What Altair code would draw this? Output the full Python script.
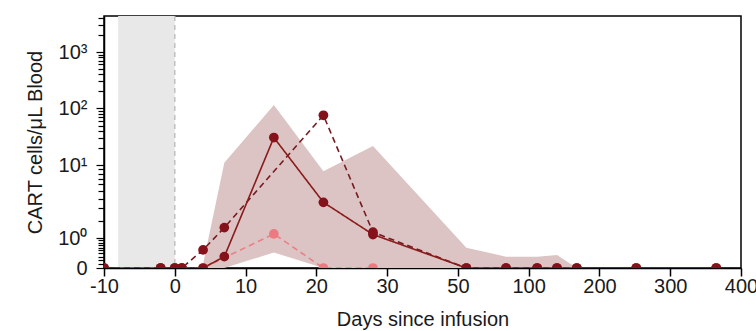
import altair as alt
import pandas as pd

# ---- data ----
days_solid = [-10, -2, 0, 1, 4, 7, 14, 21, 28, 56, 84, 112, 140, 168, 252, 365]
vals_solid = [0, 0, 0, 0, 0, 0.3, 31, 3.6, 1.17, 0, 0, 0, 0, 0, 0, 0]

days_dashed = [-10, -2, 0, 1, 4, 7, 21, 28, 56, 84, 112, 140, 168, 252, 365]
vals_dashed = [0, 0, 0, 0, 0.52, 1.55, 75, 1.29, 0, 0, 0, 0, 0, 0, 0]

days_pink = [-10, -2, 0, 1, 4, 14, 21, 28]
vals_pink = [0, 0, 0, 0, 0, 1.2, 0, 0]

band_days = [4, 7, 14, 21, 28, 56, 84, 112, 140, 168]
band_lo = [0, 0, 0.43, 0, 0, 0, 0, 0, 0, 0]
band_hi = [0.1, 11, 113, 8.5, 22, 0.6, 0.3, 0.3, 0.35, 0]

shade_start = [-8]
shade_end = [0]

x_ticks = [-10, 0, 10, 20, 30, 50, 100, 200, 300, 400]
y_major = [0, 1, 10, 100, 1000]
y_major_labels = ["0", "10⁰", "10¹", "10²", "10³"]
y_minor = [0.1, 0.2, 0.3, 0.4, 0.5, 0.6, 0.7, 0.8, 0.9,
           2, 3, 4, 5, 6, 7, 8, 9,
           20, 30, 40, 50, 60, 70, 80, 90,
           200, 300, 400, 500, 600, 700, 800, 900,
           2000, 3000, 4000]
y_top = 4300

# ---- layout ----
W, H = 637, 252
FONT = "Liberation Sans"

x_scale = alt.Scale(domain=x_ticks, range=[W * i / (len(x_ticks) - 1) for i in range(len(x_ticks))],
                    nice=False, zero=False)
y_scale = alt.Scale(type="symlog", constant=1, domain=[0, 1, 10, 100, 1000, y_top],
                    range=[252, 222, 149, 92, 36, 0], nice=False, zero=False)

label_expr = " : ".join(
    f"datum.value == {v} ? '{t}'" for v, t in zip(y_major, y_major_labels)
) + " : ''"
major_test = "indexof([" + ",".join(str(v) for v in y_major) + "], datum.value) >= 0"
y_values = sorted(y_major + y_minor)

x_axis = alt.Axis(values=x_ticks, tickCount=100, labelExpr="'' + datum.value",
                  title="Days since infusion", grid=False,
                  tickSize=8, tickWidth=1.5, tickColor="black", domainColor="black",
                  domainWidth=1.5, labelFontSize=20, titleFontSize=20, labelFont=FONT,
                  titleFont=FONT, titleFontWeight="normal", labelPadding=0, titlePadding=13,
                  labelColor="#1a1a1a", titleColor="#1a1a1a", labelFlush=False,
                  labelOverlap=False)
y_axis = alt.Axis(values=y_values, tickCount=200, labelExpr=label_expr,
                  title="CART cells/μL Blood", grid=False,
                  tickSize={"condition": {"test": major_test, "value": 8}, "value": 6},
                  tickWidth=1.2, tickColor="black", domainColor="black", domainWidth=1.5,
                  labelFontSize=20, titleFontSize=20, labelFont=FONT, titleFont=FONT,
                  titleFontWeight="normal", labelPadding=9, titlePadding=12,
                  labelColor="#1a1a1a", titleColor="#1a1a1a", labelFlush=False,
                  labelOverlap=False)

df_lines = pd.concat([
    pd.DataFrame({"day": days_solid, "value": vals_solid, "series": "solid"}),
    pd.DataFrame({"day": days_dashed, "value": vals_dashed, "series": "dashed"}),
    pd.DataFrame({"day": days_pink, "value": vals_pink, "series": "pink"}),
])
df_band = pd.DataFrame({"day": band_days, "lo": band_lo, "hi": band_hi})
df_shade = pd.DataFrame({"start": shade_start, "end": shade_end})

X = alt.X("day:Q", scale=x_scale, axis=x_axis)
Y = alt.Y("value:Q", scale=y_scale, axis=y_axis)

shade = alt.Chart(df_shade).mark_rect(color="#e8e8e8").encode(
    x=alt.X("start:Q", scale=x_scale, axis=x_axis), x2="end:Q",
    y=alt.datum(0, type="quantitative", scale=y_scale, axis=y_axis), y2=alt.datum(y_top),
)
zero_rule = alt.Chart(df_shade).mark_rule(color="#c0c0c0", strokeDash=[5, 4], strokeWidth=1.5).encode(
    x=alt.X("end:Q", scale=x_scale)
)
band = alt.Chart(df_band).mark_area(color="#dcc4c4", clip=True).encode(
    x=alt.X("day:Q", scale=x_scale), y=alt.Y("lo:Q", scale=y_scale), y2="hi:Q"
)

styles = {
    "pink": dict(line="#e98087", point="#ec7a80", dash=[6, 4]),
    "dashed": dict(line="#761a20", point="#85121a", dash=[6, 4]),
    "solid": dict(line="#8b1a1a", point="#85121a", dash=[1, 0]),
}
layers = [shade, band, zero_rule]
for name in ["pink", "dashed", "solid"]:
    s = styles[name]
    sub = alt.Chart(df_lines).transform_filter(alt.datum.series == name)
    layers.append(sub.mark_line(color=s["line"], strokeWidth=1.6, strokeDash=s["dash"], clip=True)
                  .encode(x=X, y=Y))
for name in ["pink", "dashed", "solid"]:
    s = styles[name]
    sub = alt.Chart(df_lines).transform_filter(alt.datum.series == name)
    layers.append(sub.mark_circle(color=s["point"], size=95, opacity=1, clip=True)
                  .encode(x=X, y=Y))

chart = alt.layer(*layers).properties(
    width=W, height=H,
    autosize=alt.AutoSizeParams(type="none"),
    padding={"left": 104, "top": 16, "right": 15, "bottom": 63},
    background="white",
).configure_view(stroke="black", strokeWidth=1.5)

chart.save("out.html", embed_options={"renderer": "svg", "actions": False})
